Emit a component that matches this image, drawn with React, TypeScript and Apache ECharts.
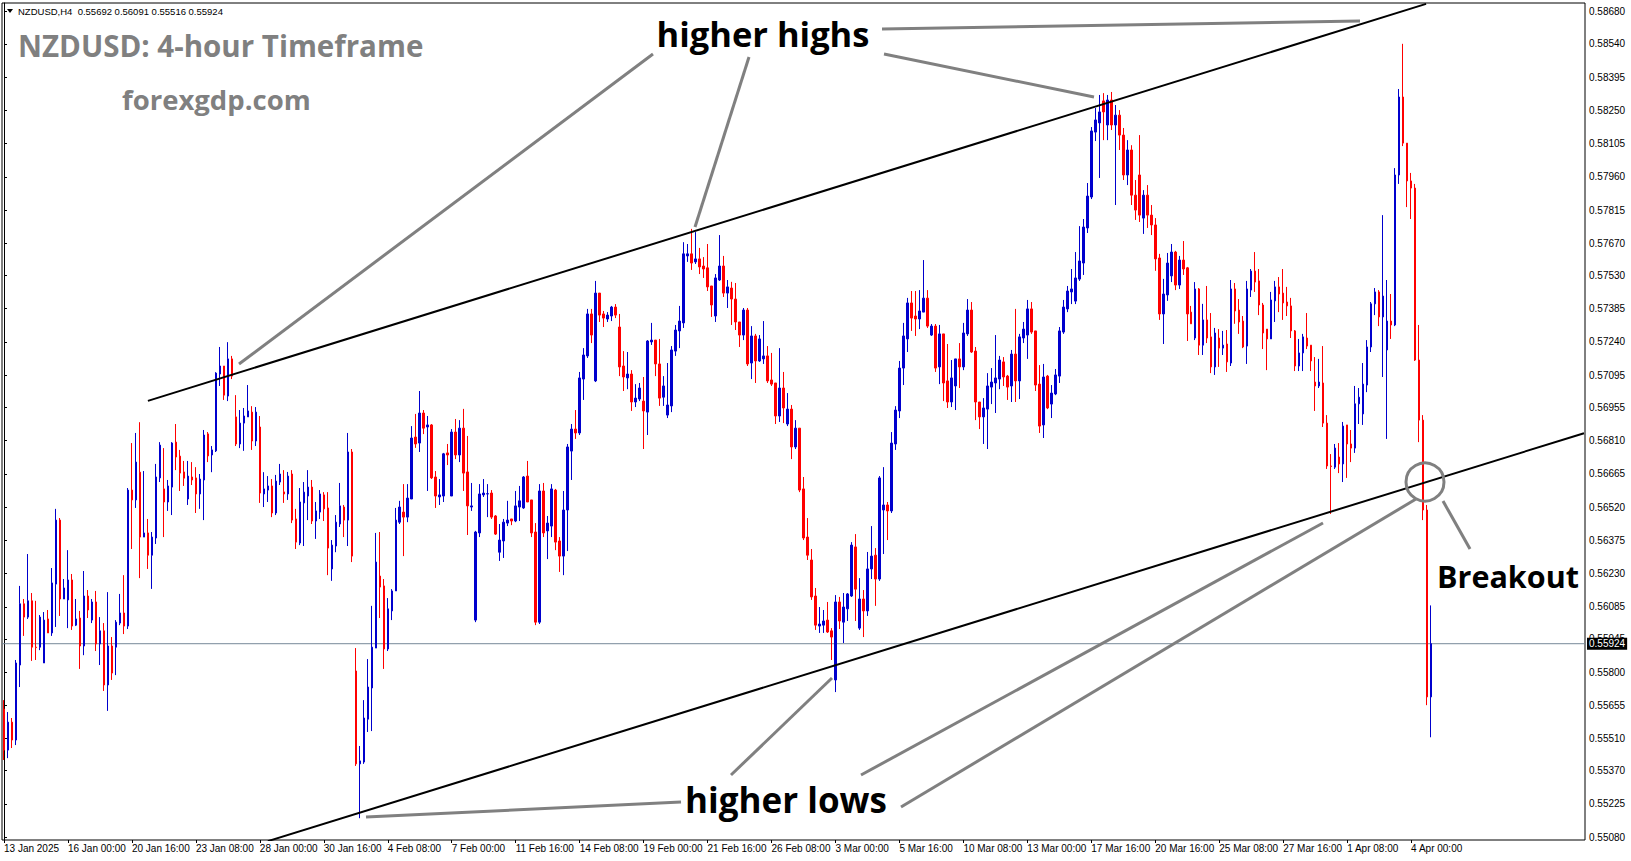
import React, { useEffect, useRef } from "react";
import * as echarts from "echarts";

// ---- DATA (NZDUSD H4) ----
const opens = [
  0.55639,0.55460,0.55582,0.55504,0.55831,0.56098,0.56040,0.56111,0.55909,0.55909,
  0.55840,0.56032,0.55971,0.56184,0.56463,0.56119,0.56115,0.56202,0.56005,0.56036,
  0.55914,0.56132,0.56027,0.56106,0.55923,0.55980,0.55744,0.55914,0.55909,0.56014,
  0.56058,0.56001,0.56594,0.56551,0.56672,0.56389,0.56407,0.56310,0.56385,0.56647,
  0.56599,0.56542,0.56607,0.56803,0.56742,0.56673,0.56555,0.56651,0.56647,0.56577,
  0.56638,0.56839,0.56747,0.56765,0.57100,0.57135,0.57004,0.57166,0.56913,0.56795,
  0.56886,0.56913,0.56934,0.56808,0.56869,0.56577,0.56594,0.56612,0.56494,0.56629,
  0.56586,0.56577,0.56664,0.56468,0.56363,0.56538,0.56568,0.56607,0.56459,0.56498,
  0.56573,0.56516,0.56250,0.56350,0.56446,0.56520,0.56463,0.56760,0.55805,0.55400,
  0.55408,0.55595,0.55731,0.55905,0.56219,0.56176,0.55901,0.56067,0.56154,0.56454,
  0.56498,0.56476,0.56555,0.56825,0.56799,0.56930,0.56869,0.56878,0.56651,0.56564,
  0.56568,0.56756,0.56568,0.56847,0.56747,0.56864,0.56673,0.56520,0.56027,0.56407,
  0.56573,0.56577,0.56581,0.56481,0.56323,0.56372,0.56450,0.56468,0.56459,0.56520,
  0.56516,0.56655,0.56551,0.56411,0.56018,0.56590,0.56416,0.56437,0.56594,0.56372,
  0.56306,0.56507,0.56764,0.56860,0.56843,0.57078,0.57179,0.57362,0.57070,0.57453,
  0.57362,0.57340,0.57353,0.57392,0.57305,0.57135,0.57083,0.57100,0.56978,0.56991,
  0.56982,0.56934,0.57240,0.57248,0.57144,0.56999,0.56921,0.56961,0.57200,0.57288,
  0.57323,0.57615,0.57624,0.57589,0.57602,0.57571,0.57563,0.57484,0.57353,0.57510,
  0.57571,0.57453,0.57475,0.57427,0.57327,0.57270,0.57379,0.57148,0.57266,0.57157,
  0.57166,0.57179,0.57074,0.57061,0.56917,0.57039,0.56882,0.56947,0.56782,0.56864,
  0.56599,0.56389,0.56289,0.56132,0.56001,0.56005,0.56027,0.55980,0.55766,0.56106,
  0.56018,0.56076,0.56132,0.56346,0.55992,0.56119,0.56067,0.56250,0.56310,0.56206,
  0.56507,0.56529,0.56503,0.56795,0.56939,0.57126,0.57253,0.57410,0.57353,0.57340,
  0.57370,0.57431,0.57270,0.57309,0.57131,0.57275,0.57070,0.56978,0.57048,0.57166,
  0.57131,0.57275,0.57379,0.57200,0.56978,0.56913,0.56947,0.57043,0.57061,0.57078,
  0.57153,0.57091,0.57048,0.57187,0.57070,0.57257,0.57270,0.57384,0.57288,0.57056,
  0.56878,0.57091,0.56969,0.57013,0.57091,0.57283,0.57384,0.57458,0.57418,0.57514,
  0.57584,0.57737,0.57872,0.58155,0.58195,0.58291,0.58186,0.58295,0.58186,0.58229,
  0.58142,0.57968,0.58077,0.57880,0.57968,0.57780,0.57880,0.57793,0.57750,0.57606,
  0.57362,0.57445,0.57528,0.57632,0.57488,0.57597,0.57563,0.57370,0.57257,0.57471,
  0.57226,0.57336,0.57262,0.57131,0.57257,0.57213,0.57231,0.57148,0.57471,0.57379,
  0.57331,0.57222,0.57466,0.57549,0.57506,0.57401,0.57296,0.57253,0.57419,0.57480,
  0.57453,0.57414,0.57397,0.57288,0.57135,0.57192,0.57257,0.57226,0.57065,0.57048,
  0.57061,0.56886,0.56699,0.56694,0.56738,0.56708,0.56878,0.56795,0.56777,0.56970,
  0.56926,0.57052,0.57218,0.57406,0.57458,0.57349,0.57205,0.57331,0.57314,0.57968,
  0.58308,0.58107,0.57942,0.57911,0.57161,0.56899,0.56507,0.55692,
];

const highs = [
  0.55678,0.55626,0.55600,0.55853,0.56176,0.56119,0.56315,0.56145,0.56111,0.56049,
  0.56062,0.56071,0.56254,0.56512,0.56472,0.56206,0.56332,0.56228,0.56119,0.56067,
  0.56241,0.56158,0.56119,0.56154,0.56040,0.56014,0.56149,0.55953,0.56027,0.56141,
  0.56223,0.56603,0.56799,0.56843,0.56890,0.56677,0.56468,0.56411,0.56708,0.56803,
  0.56777,0.56638,0.56803,0.56882,0.56769,0.56721,0.56721,0.56716,0.56694,0.56664,
  0.56856,0.56847,0.56786,0.57108,0.57218,0.57135,0.57239,0.57179,0.57008,0.56943,
  0.56952,0.57052,0.56960,0.56956,0.56917,0.56672,0.56655,0.56642,0.56660,0.56708,
  0.56681,0.56673,0.56681,0.56512,0.56603,0.56629,0.56681,0.56638,0.56542,0.56594,
  0.56585,0.56585,0.56376,0.56485,0.56625,0.56529,0.56843,0.56773,0.55905,0.55478,
  0.55678,0.55857,0.56089,0.56407,0.56411,0.56206,0.56123,0.56162,0.56516,0.56547,
  0.56620,0.56620,0.56873,0.56926,0.57026,0.56943,0.56917,0.56882,0.56677,0.56642,
  0.56756,0.56795,0.56860,0.56904,0.56899,0.56948,0.56830,0.56625,0.56416,0.56620,
  0.56642,0.56620,0.56594,0.56485,0.56446,0.56468,0.56547,0.56468,0.56590,0.56612,
  0.56655,0.56721,0.56551,0.56450,0.56620,0.56625,0.56481,0.56620,0.56599,0.56389,
  0.56590,0.56795,0.56882,0.56943,0.57109,0.57213,0.57384,0.57384,0.57506,0.57453,
  0.57375,0.57370,0.57397,0.57405,0.57362,0.57200,0.57196,0.57117,0.57056,0.57061,
  0.57087,0.57248,0.57323,0.57248,0.57253,0.57091,0.57148,0.57222,0.57314,0.57397,
  0.57675,0.57667,0.57733,0.57719,0.57650,0.57610,0.57667,0.57484,0.57536,0.57706,
  0.57615,0.57510,0.57502,0.57497,0.57327,0.57388,0.57388,0.57309,0.57275,0.57270,
  0.57331,0.57222,0.57192,0.57061,0.57213,0.57109,0.57017,0.56965,0.56899,0.56864,
  0.56651,0.56472,0.56337,0.56167,0.56084,0.56071,0.56106,0.55992,0.56136,0.56128,
  0.56145,0.56145,0.56367,0.56402,0.56210,0.56158,0.56324,0.56437,0.56341,0.56655,
  0.56694,0.56542,0.56847,0.56960,0.57157,0.57323,0.57432,0.57462,0.57462,0.57466,
  0.57597,0.57466,0.57318,0.57318,0.57314,0.57275,0.57231,0.57161,0.57166,0.57235,
  0.57323,0.57427,0.57414,0.57218,0.56978,0.56995,0.57104,0.57126,0.57270,0.57179,
  0.57174,0.57096,0.57205,0.57384,0.57275,0.57327,0.57423,0.57414,0.57288,0.57139,
  0.57144,0.57096,0.57052,0.57122,0.57305,0.57423,0.57484,0.57558,0.57632,0.57745,
  0.57776,0.57933,0.58177,0.58260,0.58317,0.58325,0.58317,0.58330,0.58273,0.58251,
  0.58173,0.58120,0.58098,0.57946,0.58142,0.57902,0.57924,0.57837,0.57780,0.57624,
  0.57515,0.57628,0.57667,0.57637,0.57615,0.57680,0.57567,0.57397,0.57501,0.57475,
  0.57406,0.57484,0.57366,0.57301,0.57296,0.57288,0.57292,0.57510,0.57497,0.57427,
  0.57353,0.57506,0.57558,0.57632,0.57558,0.57410,0.57296,0.57458,0.57506,0.57523,
  0.57558,0.57480,0.57432,0.57292,0.57253,0.57275,0.57366,0.57226,0.57174,0.57166,
  0.57222,0.56921,0.56751,0.56795,0.56799,0.56891,0.56878,0.56856,0.57048,0.57039,
  0.57148,0.57248,0.57414,0.57475,0.57466,0.57793,0.57510,0.57449,0.57998,0.58343,
  0.58540,0.58107,0.57977,0.57929,0.57314,0.56921,0.56529,0.56091,
];

const lows = [
  0.55417,0.55425,0.55469,0.55482,0.55735,0.55958,0.56032,0.55849,0.55853,0.55896,
  0.55840,0.55971,0.55958,0.55997,0.56045,0.56119,0.55992,0.55984,0.56001,0.55814,
  0.55874,0.56036,0.56014,0.55892,0.55831,0.55718,0.55631,0.55766,0.55787,0.56005,
  0.55966,0.55988,0.56337,0.56516,0.56210,0.56389,0.56250,0.56163,0.56359,0.56629,
  0.56389,0.56503,0.56485,0.56681,0.56590,0.56612,0.56529,0.56616,0.56494,0.56512,
  0.56463,0.56716,0.56672,0.56760,0.57048,0.56987,0.56982,0.57078,0.56786,0.56777,
  0.56765,0.56913,0.56769,0.56786,0.56538,0.56520,0.56542,0.56476,0.56485,0.56616,
  0.56538,0.56551,0.56450,0.56337,0.56354,0.56350,0.56463,0.56446,0.56381,0.56468,
  0.56459,0.56223,0.56198,0.56323,0.56433,0.56389,0.56350,0.56280,0.55391,0.55163,
  0.55400,0.55539,0.55543,0.55905,0.56036,0.55814,0.55892,0.56027,0.56154,0.56446,
  0.56306,0.56454,0.56555,0.56778,0.56760,0.56838,0.56590,0.56642,0.56516,0.56529,
  0.56542,0.56703,0.56568,0.56729,0.56716,0.56590,0.56398,0.56503,0.56018,0.56389,
  0.56564,0.56476,0.56468,0.56398,0.56285,0.56298,0.56437,0.56441,0.56454,0.56459,
  0.56512,0.56542,0.56389,0.56005,0.56010,0.56389,0.56293,0.56389,0.56332,0.56237,
  0.56223,0.56328,0.56638,0.56817,0.56834,0.56987,0.57170,0.57235,0.57065,0.57327,
  0.57305,0.57327,0.57331,0.57344,0.57091,0.57026,0.57034,0.56939,0.56956,0.56982,
  0.56773,0.56834,0.57227,0.57091,0.56961,0.56961,0.56908,0.56934,0.57179,0.57213,
  0.57301,0.57589,0.57554,0.57580,0.57536,0.57519,0.57462,0.57349,0.57327,0.57506,
  0.57436,0.57388,0.57314,0.57292,0.57218,0.57248,0.57135,0.57078,0.57061,0.57153,
  0.57144,0.57061,0.57048,0.56882,0.56891,0.56886,0.56873,0.56729,0.56773,0.56585,
  0.56376,0.56289,0.56115,0.55984,0.55971,0.55971,0.55971,0.55853,0.55713,0.55988,
  0.55927,0.56023,0.56128,0.56023,0.55984,0.55953,0.56045,0.56206,0.56089,0.56198,
  0.56315,0.56376,0.56494,0.56769,0.56908,0.57052,0.57196,0.57288,0.57266,0.57296,
  0.57370,0.57301,0.57266,0.57109,0.57056,0.56982,0.56952,0.56956,0.56943,0.57039,
  0.57117,0.57266,0.57192,0.56899,0.56860,0.56795,0.56773,0.56969,0.56930,0.57034,
  0.57048,0.56987,0.56978,0.56978,0.56991,0.57235,0.57166,0.57275,0.57026,0.56843,
  0.56821,0.56947,0.56908,0.57008,0.57061,0.57275,0.57370,0.57405,0.57405,0.57506,
  0.57532,0.57715,0.57863,0.58116,0.57955,0.58120,0.58120,0.58164,0.57837,0.58077,
  0.57946,0.57924,0.57837,0.57772,0.57763,0.57711,0.57737,0.57706,0.57550,0.57336,
  0.57231,0.57419,0.57501,0.57466,0.57471,0.57532,0.57244,0.57319,0.57248,0.57183,
  0.57183,0.57235,0.57104,0.57096,0.57131,0.57183,0.57109,0.57135,0.57319,0.57275,
  0.57213,0.57144,0.57436,0.57458,0.57357,0.57209,0.57117,0.57253,0.57327,0.57370,
  0.57336,0.57353,0.57257,0.57113,0.57113,0.57113,0.57209,0.57113,0.56939,0.57039,
  0.56869,0.56686,0.56490,0.56686,0.56668,0.56629,0.56647,0.56716,0.56756,0.56882,
  0.56878,0.57021,0.57196,0.57357,0.57309,0.57087,0.56817,0.57253,0.57309,0.57929,
  0.58094,0.57828,0.57776,0.57157,0.56803,0.56463,0.55656,0.55516,
];

const closes = [
  0.55460,0.55582,0.55504,0.55840,0.56098,0.56040,0.56111,0.55909,0.55907,0.56040,
  0.56027,0.55971,0.56189,0.56463,0.56119,0.56167,0.56202,0.56001,0.56032,0.55914,
  0.56132,0.56071,0.56106,0.55923,0.55980,0.55744,0.55914,0.55796,0.56018,0.56058,
  0.56001,0.56594,0.56551,0.56716,0.56389,0.56407,0.56310,0.56389,0.56651,0.56790,
  0.56542,0.56612,0.56799,0.56738,0.56668,0.56646,0.56655,0.56638,0.56577,0.56642,
  0.56834,0.56743,0.56769,0.57104,0.57135,0.57008,0.57166,0.57091,0.56795,0.56886,
  0.56917,0.56939,0.56808,0.56934,0.56581,0.56599,0.56612,0.56494,0.56633,0.56664,
  0.56577,0.56655,0.56463,0.56367,0.56542,0.56585,0.56607,0.56459,0.56503,0.56577,
  0.56512,0.56341,0.56354,0.56454,0.56525,0.56463,0.56760,0.56306,0.55400,0.55413,
  0.55600,0.55735,0.55909,0.56280,0.56171,0.55901,0.56076,0.56154,0.56463,0.56520,
  0.56476,0.56559,0.56821,0.56795,0.56930,0.56864,0.56878,0.56647,0.56568,0.56573,
  0.56752,0.56747,0.56847,0.56747,0.56864,0.56668,0.56525,0.56525,0.56411,0.56577,
  0.56581,0.56578,0.56476,0.56402,0.56376,0.56454,0.56463,0.56459,0.56525,0.56547,
  0.56651,0.56542,0.56407,0.56018,0.56590,0.56407,0.56450,0.56599,0.56367,0.56306,
  0.56507,0.56782,0.56860,0.56843,0.57083,0.57183,0.57362,0.57270,0.57453,0.57357,
  0.57344,0.57357,0.57392,0.57357,0.57131,0.57087,0.57100,0.56978,0.56995,0.57039,
  0.56939,0.57244,0.57248,0.57144,0.56995,0.57048,0.56965,0.57205,0.57292,0.57331,
  0.57624,0.57624,0.57584,0.57602,0.57567,0.57558,0.57480,0.57401,0.57519,0.57571,
  0.57453,0.57480,0.57427,0.57327,0.57270,0.57379,0.57144,0.57266,0.57157,0.57253,
  0.57179,0.57070,0.57056,0.56917,0.57039,0.56952,0.56947,0.56782,0.56864,0.56594,
  0.56385,0.56310,0.56128,0.56005,0.56010,0.56023,0.55975,0.55953,0.56106,0.56023,
  0.56084,0.56141,0.56354,0.56162,0.56119,0.56067,0.56250,0.56306,0.56206,0.56647,
  0.56529,0.56503,0.56799,0.56943,0.57126,0.57266,0.57410,0.57344,0.57340,0.57375,
  0.57431,0.57309,0.57309,0.57126,0.57275,0.57061,0.56978,0.57083,0.57166,0.57131,
  0.57279,0.57379,0.57196,0.56978,0.56913,0.56952,0.57048,0.57065,0.57083,0.57161,
  0.57087,0.57043,0.57187,0.57070,0.57262,0.57296,0.57384,0.57283,0.57052,0.56873,
  0.57087,0.56952,0.57017,0.57096,0.57288,0.57392,0.57462,0.57471,0.57519,0.57593,
  0.57741,0.57876,0.58160,0.58208,0.58243,0.58243,0.58295,0.58186,0.58229,0.58142,
  0.57968,0.58077,0.57880,0.57815,0.57793,0.57880,0.57793,0.57750,0.57602,0.57362,
  0.57449,0.57584,0.57632,0.57488,0.57597,0.57558,0.57362,0.57319,0.57471,0.57226,
  0.57336,0.57257,0.57131,0.57279,0.57213,0.57226,0.57153,0.57471,0.57375,0.57327,
  0.57218,0.57471,0.57549,0.57501,0.57401,0.57279,0.57253,0.57423,0.57480,0.57449,
  0.57410,0.57397,0.57288,0.57135,0.57192,0.57262,0.57222,0.57157,0.57048,0.57065,
  0.56886,0.56699,0.56697,0.56777,0.56708,0.56873,0.56795,0.56777,0.56970,0.56999,
  0.57056,0.57218,0.57406,0.57458,0.57349,0.57440,0.57331,0.57314,0.57968,0.58308,
  0.58107,0.57942,0.57911,0.57161,0.56899,0.56507,0.55692,0.55924,
];

// time-axis labels (one every 16 H4 bars, as on the MT4 chart)
const xTickLabels = [
  "13 Jan 2025", "16 Jan 00:00", "20 Jan 16:00", "23 Jan 08:00", "28 Jan 00:00",
  "30 Jan 16:00", "4 Feb 08:00", "7 Feb 00:00", "11 Feb 16:00", "14 Feb 08:00",
  "19 Feb 00:00", "21 Feb 16:00", "26 Feb 08:00", "3 Mar 00:00", "5 Mar 16:00",
  "10 Mar 08:00", "13 Mar 00:00", "17 Mar 16:00", "20 Mar 16:00", "25 Mar 08:00",
  "27 Mar 16:00", "1 Apr 08:00", "4 Apr 00:00",
];
const barsPerTimeLabel = 16;
const totalSlots = 396; // visible bar slots incl. empty right margin

// price-axis labels
const yTickValues = [
  0.55080, 0.55225, 0.55370, 0.55510, 0.55655, 0.55800, 0.55945, 0.56085,
  0.56230, 0.56375, 0.56520, 0.56665, 0.56810, 0.56955, 0.57095, 0.57240,
  0.57385, 0.57530, 0.57670, 0.57815, 0.57960, 0.58105, 0.58250, 0.58395,
  0.58540, 0.58680,
];
const yMin = 0.55068;
const yMax = 0.58718;
const lastPrice = 0.55924;
const headerText = "NZDUSD,H4  0.55692 0.56091 0.55516 0.55924";

// channel trendlines: [bar index, price]
const upperTrend = [[36, 0.56983], [355.75, 0.58714]];
const lowerTrend = [[66, 0.55063], [395.25, 0.56842]];

const UP = "#0000CD";
const DOWN = "#FF0000";
const GRAY = "#808080";
const SMALL_FONT = "Liberation Sans";
const BIG_FONT = "Open Sans";

export default function App() {
  const ref = useRef<HTMLDivElement>(null);

  useEffect(() => {
    if (!ref.current) return;
    const chart = echarts.init(ref.current, null, { renderer: "svg" });

    const cats = Array.from({ length: totalSlots }, (_, i) => String(i));
    const candles = opens.map((o, i) => [o, closes[i], lows[i], highs[i]]);
    const labelAt = (idx: number) =>
      idx % barsPerTimeLabel === 0 ? xTickLabels[idx / barsPerTimeLabel] ?? "" : "";
    const isTick = (idx: number) =>
      idx % barsPerTimeLabel === 0 && idx / barsPerTimeLabel < xTickLabels.length;

    const gline = (x1: number, y1: number, x2: number, y2: number) => ({
      type: "line",
      z: 100,
      silent: true,
      shape: { x1, y1, x2, y2 },
      style: { stroke: GRAY, lineWidth: 3 },
    });
    const bigText = (
      text: string, x: number, y: number, size: number, fill: string,
      align: string = "center"
    ) => ({
      type: "text",
      z: 100,
      silent: true,
      x,
      y,
      style: {
        text,
        fill,
        font: `bold ${size}px "${BIG_FONT}"`,
        textAlign: align,
        textVerticalAlign: "middle",
      },
    });

    const option: any = {
      animation: false,
      backgroundColor: "#ffffff",
      grid: {
        left: 2,
        top: 3,
        right: 46,
        bottom: 21,
        show: true,
        borderColor: "#000000",
        borderWidth: 1,
        backgroundColor: "#ffffff",
      },
      xAxis: [
        {
          type: "category",
          data: cats,
          boundaryGap: true,
          axisLine: { show: false },
          axisTick: {
            show: true,
            alignWithLabel: true,
            interval: (idx: number) => isTick(idx),
            length: 3,
            lineStyle: { color: "#000" },
          },
          axisLabel: {
            interval: (idx: number) => isTick(idx),
            formatter: (_v: string, idx: number) => labelAt(idx),
            align: "left",
            fontSize: 10,
            fontFamily: SMALL_FONT,
            color: "#000",
            margin: 3,
          },
          splitLine: { show: false },
        },
        {
          type: "value",
          min: -0.5,
          max: totalSlots - 0.5,
          show: false,
        },
      ],
      yAxis: {
        type: "value",
        position: "right",
        min: yMin,
        max: yMax,
        splitLine: { show: false },
        axisLine: { show: true, lineStyle: { color: "#000" } },
        axisTick: {
          show: true,
          customValues: yTickValues,
          length: 3,
          lineStyle: { color: "#000" },
        },
        axisLabel: {
          customValues: yTickValues,
          formatter: (v: number) => v.toFixed(5),
          fontSize: 10,
          fontFamily: SMALL_FONT,
          color: "#000",
          margin: 4,
        },
      },
      series: [
        {
          type: "line",
          xAxisIndex: 1,
          yAxisIndex: 0,
          data: [[-0.5, lastPrice], [totalSlots - 0.5, lastPrice]],
          symbol: "none",
          silent: true,
          z: 1,
          lineStyle: { color: "#778899", width: 1 },
          endLabel: {
            show: true,
            formatter: lastPrice.toFixed(5),
            backgroundColor: "#000",
            color: "#fff",
            fontSize: 10,
            fontFamily: SMALL_FONT,
            padding: [1, 2, 1, 2],
            distance: 2,
          },
        },
        {
          type: "candlestick",
          data: candles,
          barWidth: 2,
          xAxisIndex: 0,
          yAxisIndex: 0,
          silent: true,
          z: 2,
          itemStyle: {
            color: UP,
            color0: DOWN,
            borderColor: UP,
            borderColor0: DOWN,
            borderWidth: 1,
          },
        },
        {
          type: "line",
          xAxisIndex: 1,
          yAxisIndex: 0,
          data: upperTrend,
          symbol: "none",
          silent: true,
          z: 5,
          lineStyle: { color: "#000", width: 2 },
        },
        {
          type: "line",
          xAxisIndex: 1,
          yAxisIndex: 0,
          data: lowerTrend,
          symbol: "none",
          silent: true,
          z: 5,
          lineStyle: { color: "#000", width: 2 },
        },
      ],
      graphic: [
        {
          type: "polygon",
          z: 100,
          silent: true,
          shape: { points: [[7, 9], [13, 9], [10, 13]] },
          style: { fill: "#000" },
        },
        {
          type: "text",
          z: 100,
          silent: true,
          x: 18,
          y: 11,
          style: {
            text: headerText,
            fill: "#000",
            font: `9.5px "${SMALL_FONT}"`,
            textAlign: "left",
            textVerticalAlign: "middle",
          },
        },
        bigText("NZDUSD: 4-hour Timeframe", 18, 45, 29.5, GRAY, "left"),
        bigText("forexgdp.com", 122, 99, 27.5, GRAY, "left"),
        bigText("higher highs", 763, 33, 34.5, "#000"),
        bigText("higher lows", 786, 799, 35, "#000"),
        bigText("Breakout", 1508, 576, 30.5, "#000"),
        gline(653, 54, 239, 364),
        gline(749, 57, 695, 227),
        gline(884, 54, 1094, 97),
        gline(882, 29, 1360, 21),
        gline(681, 802, 366, 817),
        gline(731, 775, 832, 678),
        gline(861, 775, 1323, 523),
        gline(901, 807, 1416, 499),
        gline(1443, 501, 1470, 549),
        {
          type: "circle",
          z: 100,
          silent: true,
          shape: { cx: 1425, cy: 482, r: 19 },
          style: { fill: "transparent", stroke: GRAY, lineWidth: 3 },
        },
      ],
    };

    chart.setOption(option);
    return () => chart.dispose();
  }, []);

  return (
    <div
      ref={ref}
      style={{
        position: "absolute",
        left: 0,
        top: 0,
        width: 1631,
        height: 861,
        background: "#ffffff",
      }}
    />
  );
}
